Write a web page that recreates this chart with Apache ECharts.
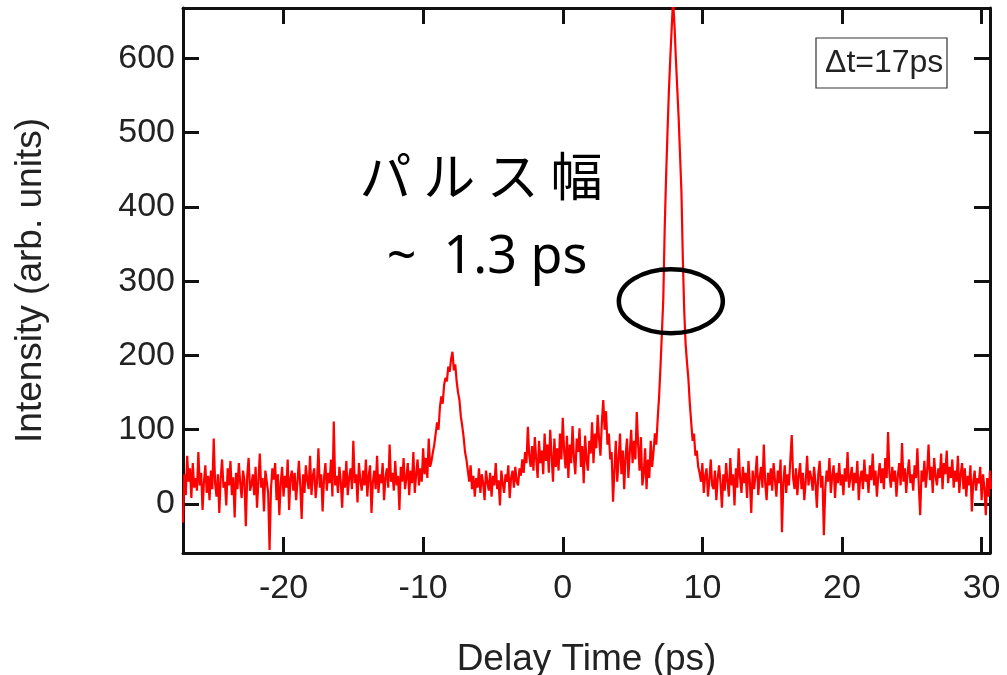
<!DOCTYPE html>
<html>
<head>
<meta charset="utf-8">
<script src="https://cdn.jsdelivr.net/npm/echarts@6/dist/echarts.min.js"></script>
<style>
html,body{margin:0;padding:0;background:#fff;}
#chart{width:1007px;height:675px;}
</style>
</head>
<body>
<div id="chart"></div>
<script>
// ---- data ----
const delayStart = -27.2;   // ps, first sample
const delayStep = 0.1;      // ps between samples
const intensity = [
  -25, 40, 12, 65, 30, 48, 8, 55, 22, 35,
  18, 70, 25, 42, -8, 30, 52, 15, 38, 5,
  45, 20, 88, 28, 10, 40, -12, 35, 60, 22,
  30, -2, 48, 25, 58, 12, 36, -18, 42, 20,
  55, 28, 8, 45, 32, -30, 38, 62, 18, 26,
  40, 12, 50, -5, 30, 68, 22, 35, -10, 45,
  30, 15, -62, 20, 48, 33, 55, 5, 40, -15,
  28, 50, 10, 38, 22, 60, -8, 35, 45, 18,
  42, 5, 30, 58, 25, -20, 40, 15, 52, 32,
  20, 65, 12, 38, 48, 8, 30, 75, 22, 40,
  -10, 35, 55, 18, 42, 28, 60, 10, 111, 25,
  38, 15, 50, 30, -5, 45, 22, 58, 12, 35,
  48, 20, 85, 28, 40, 2, 55, 32, 18, 45,
  25, 60, 10, 38, 52, -12, 30, 45, 20, 65,
  15, 40, 28, 55, 5, 35, 48, 22, 80, 30,
  42, 18, 58, 25, 38, -8, 50, 30, 62, 20,
  35, 55, 12, 45, 28, 70, 15, 40, 60, 25,
  48, 30, 75, 40, 62, 35, 88, 50, 58, 70,
  80, 95, 110, 100, 130, 145, 135, 160, 170, 165,
  185, 178, 195, 205, 180, 188, 165, 150, 140, 118,
  105, 90, 70, 60, 45, 30, 52, 20, 38, 10,
  35, 22, 48, 15, 40, 28, 5, 45, 30, 18,
  42, 10, 38, 25, 55, 20, 32, -2, 45, 28,
  15, 40, 30, 52, 8, 35, 45, 22, 50, 30,
  25, 48, 38, 60, 42, 70, 55, 104, 65, 50,
  78, 45, 90, 60, 35, 85, 55, 72, 40, 95,
  58, 80, 42, 100, 65, 30, 88, 50, 75, 45,
  95, 60, 116, 70, 48, 92, 35, 80, 55, 105,
  62, 40, 88, 70, 102, 50, 78, 28, 92, 60,
  45, 85, 68, 110, 55, 95, 75, 120, 88, 65,
  110, 140, 100, 125, 80, 95, 60, 70, 3, 45,
  85, 30, 60, 95, 40, 72, 20, 65, 88, 35,
  70, 100, 55, 85, 60, 124, 80, 45, 90, 25,
  40, 75, 20, 60, 35, 85, 50, 70, 95, 80,
  115, 145, 185, 230, 276, 370, 440, 500, 555, 600,
  640, 680, 645, 600, 560, 520, 470, 420, 330, 260,
  215, 190, 168, 135, 110, 85, 95, 65, 72, 50,
  42, 30, 55, 15, 38, 48, 10, 32, 60, 25,
  20, 45, 5, 35, 52, 28, -5, 40, 18, 55,
  30, 10, 62, 25, 40, -2, 48, 22, 75, 35,
  15, 50, 28, 42, 8, 58, 30, -12, 45, 20,
  38, 65, 12, 35, 50, 22, 80, 28, 5, 42,
  25, 48, 18, 55, 32, 10, 45, 28, 60, -38,
  30, 52, 15, 40, 25, 60, 93, 35, 20, 48,
  12, 38, 55, 20, 42, 5, 30, 65, 25, 45,
  35, 18, 50, 28, -5, 40, 58, 22, 38, -42,
  20, 45, 30, 62, 15, 38, 52, 8, 42, 28,
  55, 25, 40, 12, 48, 30, 70, 22, 35, 50,
  18, 42, 28, 58, 5, 35, 45, 20, 60, 30,
  40, 15, 52, 32, 68, 25, 45, 10, 38, 55,
  28, 48, 20, 62, 35, 97, 40, 22, 50, 30,
  45, 10, 38, 55, 25, 82, 30, 48, 15, 42,
  60, 28, 40, 18, 52, 35, 75, 25, -15, 45,
  30, 58, 22, 45, 80, 32, 50, 15, 62, 38,
  25, 48, 35, 68, 20, 55, 40, 72, 28, 50,
  35, 60, 22, 45, 30, 65, 15, 40, 55, 20,
  48, 10, 38, 25, 52, -10, 30, 45, 18, 35,
  28, 50, 5, 40, 22, -15, 35, 10, 45, 20
];
const xTicks = [-20, -10, 0, 10, 20, 30];
const yTicks = [0, 100, 200, 300, 400, 500, 600];
const xRange = [-27.2, 30.6];
const yRange = [-66, 668];
const xTitle = 'Delay Time (ps)';
const yTitle = 'Intensity (arb. units)';
const boxLabel = 'Δt=17ps';
const noteLine1 = 'パ ル ス 幅';
const noteLine2 = '~  1.3 ps';
const ellipseCenter = [7.74, 273];   // data coords of the marked point

// ---- build ----
const points = intensity.map((v, i) => [+(delayStart + i * delayStep).toFixed(2), v]);
const latin = '"Liberation Sans", Arial, sans-serif';
const cjk = '"Noto Sans CJK JP", "Noto Sans", sans-serif';
const note = '"Noto Sans", "Open Sans", sans-serif';
const ink = '#111';

function axisBase(extra) {
  return Object.assign({
    type: 'value',
    axisLine: { show: true, onZero: false, lineStyle: { color: ink, width: 3 } },
    splitLine: { show: false }
  }, extra);
}

const chart = echarts.init(document.getElementById('chart'), null, { renderer: 'canvas' });
chart.setOption({
  animation: false,
  backgroundColor: '#fff',
  grid: { left: 183, right: 17, top: 8, bottom: 122, containLabel: false, outerBoundsMode: 'none' },
  xAxis: [
    axisBase({
      min: xRange[0], max: xRange[1], position: 'bottom',
      axisTick: { show: true, inside: true, length: 16, customValues: xTicks, lineStyle: { color: ink, width: 3 } },
      axisLabel: { customValues: xTicks, fontSize: 34, fontFamily: latin, color: '#222', margin: 19 },
      name: xTitle, nameLocation: 'middle', nameGap: 88,
      nameTextStyle: { fontSize: 37, fontFamily: latin, color: '#222' }
    }),
    axisBase({
      min: xRange[0], max: xRange[1], position: 'top',
      axisTick: { show: true, inside: true, length: 16, customValues: xTicks, lineStyle: { color: ink, width: 3 } },
      axisLabel: { show: false }
    })
  ],
  yAxis: [
    axisBase({
      min: yRange[0], max: yRange[1], position: 'left',
      axisTick: { show: true, inside: true, length: 16, customValues: yTicks, lineStyle: { color: ink, width: 3 } },
      axisLabel: { customValues: yTicks, fontSize: 34, fontFamily: latin, color: '#222', margin: 8 },
      name: yTitle, nameLocation: 'middle', nameGap: 134, nameRotate: 90,
      nameTextStyle: { fontSize: 37, fontFamily: latin, color: '#222' }
    }),
    axisBase({
      min: yRange[0], max: yRange[1], position: 'right',
      axisTick: { show: true, inside: true, length: 16, customValues: yTicks, lineStyle: { color: ink, width: 3 } },
      axisLabel: { show: false }
    })
  ],
  series: [{
    type: 'line',
    data: points,
    showSymbol: false,
    symbol: 'none',
    sampling: null,
    clip: true,
    lineStyle: { color: '#ff0000', width: 2.2 }
  }]
});

const c = chart.convertToPixel({ xAxisIndex: 0, yAxisIndex: 0 }, ellipseCenter);
chart.setOption({
  graphic: [
    {
      type: 'rect', z: 100,
      shape: { x: 816, y: 38, width: 131, height: 50 },
      style: { fill: '#fff', stroke: '#333', lineWidth: 1.2 }
    },
    {
      type: 'text', z: 101, x: 825, y: 63,
      style: { text: boxLabel, font: '32px ' + latin, fill: '#222', align: 'left', verticalAlign: 'middle' }
    },
    {
      type: 'text', z: 101, x: 481, y: 176,
      style: { text: noteLine1, font: '52px ' + cjk, fill: '#000', align: 'center', verticalAlign: 'middle' }
    },
    {
      type: 'text', z: 101, x: 487, y: 258,
      style: { text: noteLine2, font: '52px ' + note, fill: '#000', align: 'center', verticalAlign: 'middle' }
    },
    {
      type: 'ellipse', z: 101,
      shape: { cx: c[0], cy: c[1], rx: 52, ry: 32 },
      style: { fill: 'none', stroke: '#000', lineWidth: 4.5 }
    }
  ]
});
</script>
</body>
</html>
